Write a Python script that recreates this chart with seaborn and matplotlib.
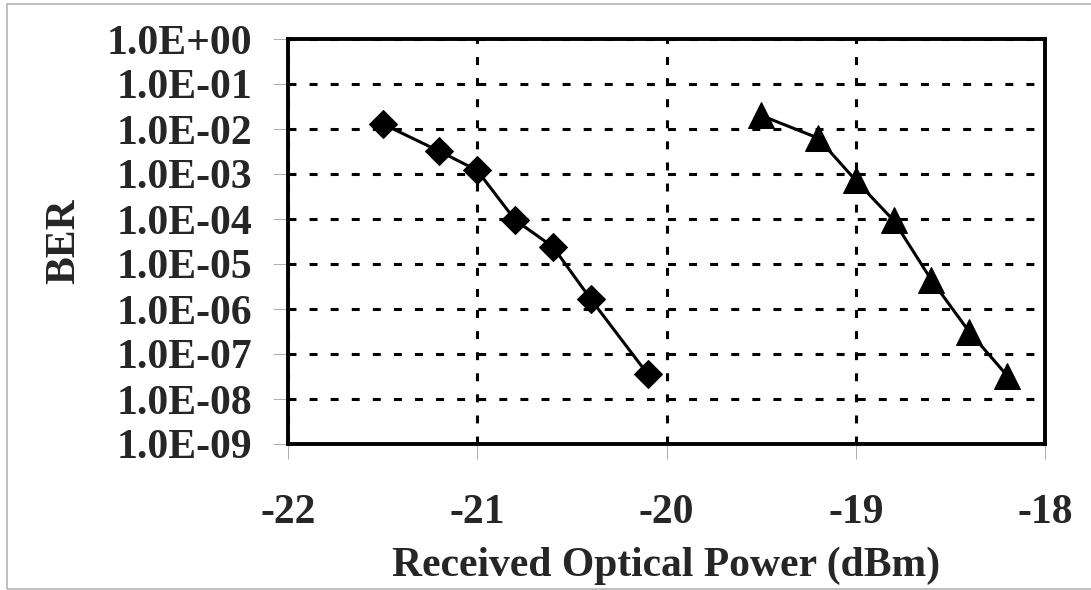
import numpy as np
import pandas as pd
import seaborn as sns
import matplotlib.pyplot as plt
from matplotlib.patches import Rectangle
from matplotlib.ticker import FixedLocator, FuncFormatter, NullLocator

# values
power_diamond = [-21.5, -21.2, -21.0, -20.8, -20.6, -20.4, -20.1]
ber_diamond = [1.3e-2, 3.2e-3, 1.2e-3, 9.5e-5, 2.4e-5, 1.65e-6, 3.6e-8]

power_triangle = [-19.5, -19.2, -19.0, -18.8, -18.6, -18.4, -18.2]
ber_triangle = [2.0e-2, 6.3e-3, 7.2e-4, 9.3e-5, 4.4e-6, 3.1e-7, 3.3e-8]

x_ticks = [-22, -21, -20, -19, -18]
y_ticks = [10.0 ** e for e in range(-9, 1)]

df_d = pd.DataFrame({"power": power_diamond, "ber": ber_diamond})
df_t = pd.DataFrame({"power": power_triangle, "ber": ber_triangle})

sns.set_style("white")
plt.rcParams['font.family'] = ['Liberation Serif', 'DejaVu Serif']
plt.rcParams['font.weight'] = 'bold'

fig = plt.figure(figsize=(10.91, 5.90), dpi=100)
ax = fig.add_axes([288 / 1091, 1 - 444 / 590, (1045 - 288) / 1091, (444 - 39) / 590])

sns.lineplot(data=df_d, x="power", y="ber", ax=ax, color="black", lw=2.2,
             marker="D", markersize=14.5, markeredgecolor="black", markerfacecolor="black")
sns.lineplot(data=df_t, x="power", y="ber", ax=ax, color="black", lw=2.2,
             marker="^", markersize=18.5, markeredgecolor="black", markerfacecolor="black")

ax.set_yscale("log")
ax.set_xlim(-22, -18)
ax.set_ylim(1e-9, 1)
ax.xaxis.set_major_locator(FixedLocator(x_ticks))
ax.yaxis.set_major_locator(FixedLocator(y_ticks))
ax.yaxis.set_minor_locator(NullLocator())
ax.yaxis.set_major_formatter(FuncFormatter(lambda v, p: f"{v:.1E}"))
ax.xaxis.set_major_formatter(FuncFormatter(lambda v, p: f"{v:.0f}"))

ax.grid(True, color="black", lw=2.2, linestyle=(0, (2.6, 4.3)))
ax.set_axisbelow(True)

for s in ax.spines.values():
    s.set_color("black")
    s.set_linewidth(2.8)

ax.tick_params(axis="both", which="major", direction="out", length=10.8, width=0.6,
               color="#a0a0a0", labelsize=30, left=True, bottom=True)
ax.tick_params(axis="y", pad=15)
ax.tick_params(axis="x", pad=25)

ax.set_xlabel("Received Optical Power (dBm)", fontsize=30, fontweight="bold")
ax.set_ylabel("BER", fontsize=30, fontweight="bold")
ax.xaxis.set_label_coords(0.5, -0.30)
ax.xaxis.label.set_va("center")
ax.yaxis.set_label_coords(-0.296, 0.5)
ax.yaxis.label.set_va("center")

# thin gray frame around the chart
fig.patches.append(Rectangle((7 / 1091, 1 - 589 / 590), 1.1, (589 - 4) / 590,
                             transform=fig.transFigure, fill=False,
                             edgecolor="#b4b4b4", lw=1.2, clip_on=False))

fig.savefig("out.png", dpi=100)
